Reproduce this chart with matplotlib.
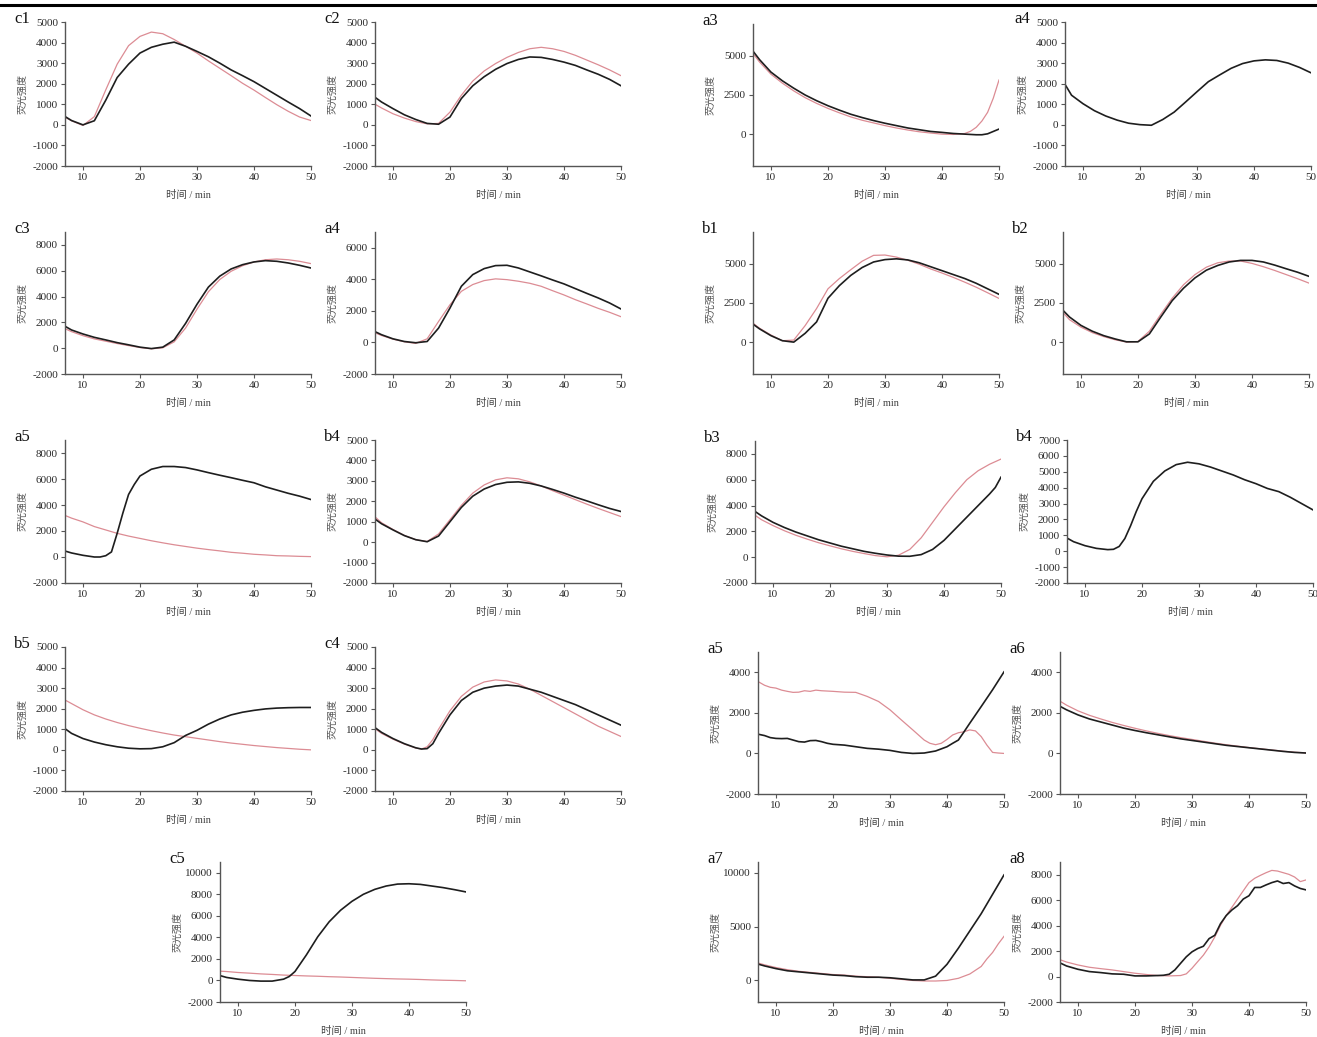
import numpy as np
import matplotlib.pyplot as plt

plt.rcParams['font.family'] = ['Liberation Serif', 'Noto Sans CJK SC']
plt.rcParams['axes.unicode_minus'] = False

#%% Datos

t_std = [7, 8, 10, 12, 14, 16, 18, 20, 22, 24, 26, 28, 30, 32, 34, 36, 38, 40, 42, 44, 46, 48, 50]

# c1
c1_black = [380, 210, 0, 200, 1200, 2300, 2950, 3490, 3770, 3920, 4020, 3820, 3570, 3310, 3000, 2670, 2390, 2100, 1770, 1440, 1110, 790, 430]
c1_red = [350, 200, -30, 400, 1700, 2950, 3850, 4300, 4510, 4430, 4150, 3820, 3490, 3110, 2750, 2390, 2020, 1690, 1330, 980, 660, 380, 210]

# c2
c2_black = [1310, 1110, 790, 490, 260, 70, 30, 380, 1280, 1900, 2340, 2700, 2980, 3180, 3300, 3280, 3180, 3050, 2890, 2670, 2460, 2210, 1900]
c2_red = [980, 820, 540, 330, 160, 50, 70, 620, 1440, 2130, 2620, 2980, 3280, 3520, 3700, 3770, 3700, 3570, 3380, 3150, 2920, 2670, 2390]

# a3 (arriba)
t_a3 = [7, 8, 10, 12, 14, 16, 18, 20, 22, 24, 26, 28, 30, 32, 34, 36, 38, 40, 42, 44, 45, 46, 47, 48, 49, 50]
a3_black = [5210, 4740, 3950, 3400, 2930, 2500, 2140, 1820, 1540, 1280, 1070, 880, 710, 560, 410, 300, 190, 130, 60, 20, 0, -20, -20, 40, 190, 340]
a3_red = [5060, 4590, 3820, 3250, 2760, 2330, 1970, 1650, 1370, 1110, 900, 730, 560, 410, 280, 170, 90, 20, 0, 60, 200, 450, 850, 1400, 2300, 3450]

# a4 (arriba)
a4_black = [1900, 1440, 1030, 690, 430, 230, 80, 10, -20, 260, 620, 1110, 1610, 2100, 2430, 2750, 2980, 3110, 3160, 3130, 3000, 2790, 2530]

# c3
c3_black = [1660, 1410, 1100, 840, 640, 430, 260, 80, -30, 80, 640, 1920, 3400, 4730, 5580, 6140, 6470, 6680, 6780, 6730, 6600, 6420, 6210]
c3_red = [1480, 1280, 970, 720, 540, 360, 200, 50, -50, 30, 490, 1560, 3020, 4370, 5320, 5960, 6390, 6680, 6850, 6910, 6850, 6730, 6550]

# a4 (fila 2)
a4b_black = [660, 490, 230, 60, -20, 60, 910, 2180, 3560, 4300, 4680, 4870, 4890, 4720, 4470, 4220, 3960, 3710, 3410, 3110, 2820, 2500, 2120]
a4b_red = [590, 440, 210, 40, -60, 230, 1330, 2390, 3240, 3670, 3920, 4030, 3980, 3880, 3750, 3560, 3280, 3010, 2710, 2440, 2160, 1910, 1630]

# b1
b1_black = [1120, 860, 430, 110, 20, 580, 1300, 2800, 3600, 4250, 4750, 5100, 5250, 5300, 5230, 5050, 4800, 4550, 4300, 4050, 3750, 3400, 3050]
b1_red = [1180, 900, 470, 110, 150, 1070, 2150, 3400, 4050, 4610, 5150, 5520, 5540, 5410, 5210, 4960, 4660, 4400, 4120, 3820, 3500, 3150, 2790]

# b2
b2_black = [1980, 1610, 1080, 710, 430, 220, 40, 40, 540, 1610, 2650, 3440, 4090, 4580, 4880, 5100, 5200, 5200, 5100, 4900, 4670, 4450, 4190]
b2_red = [1830, 1440, 970, 620, 370, 170, 20, 60, 710, 1780, 2800, 3660, 4300, 4770, 5050, 5160, 5160, 5010, 4800, 4560, 4300, 4040, 3760]

# a5 (fila 3)
t_a5 = [7, 8, 10, 12, 13, 14, 15, 16, 17, 18, 19, 20, 22, 24, 26, 28, 30, 32, 34, 36, 38, 40, 42, 44, 46, 48, 50]
a5_black = [440, 310, 130, 0, 0, 100, 390, 1820, 3380, 4810, 5580, 6230, 6750, 6960, 6960, 6880, 6700, 6490, 6290, 6100, 5900, 5710, 5400, 5150, 4900, 4680, 4420]
a5_red = [3170, 2990, 2700, 2340, 2080, 1820, 1610, 1430, 1250, 1090, 940, 810, 680, 570, 470, 360, 290, 210, 160, 100, 80, 50, 30]

# b4 (fila 3, centro)
b4_black = [1100, 900, 600, 320, 120, 20, 300, 1000, 1700, 2250, 2600, 2820, 2930, 2950, 2880, 2750, 2580, 2400, 2200, 2020, 1830, 1650, 1500]
b4_red = [1200, 950, 620, 330, 120, 30, 400, 1100, 1800, 2400, 2800, 3050, 3150, 3100, 2950, 2750, 2520, 2300, 2080, 1860, 1650, 1450, 1250]

# b3
t_b3 = [7, 8, 10, 12, 14, 16, 18, 20, 22, 24, 26, 28, 30, 32, 34, 36, 38, 40, 42, 44, 46, 48, 49, 50]
b3_black = [3500, 3200, 2700, 2300, 1950, 1650, 1350, 1100, 850, 650, 450, 300, 170, 80, 70, 200, 600, 1300, 2200, 3100, 4000, 4900, 5400, 6200]
b3_red = [3200, 2900, 2450, 2050, 1700, 1400, 1120, 880, 650, 450, 280, 120, 30, 150, 600, 1500, 2700, 3900, 5000, 6000, 6700, 7200, 7600]

# b4 (fila 3, derecha)
t_b4r = [7, 8, 10, 12, 14, 15, 16, 17, 18, 19, 20, 22, 24, 26, 28, 30, 32, 34, 36, 38, 40, 42, 44, 46, 48, 50]
b4r_black = [800, 600, 350, 180, 100, 120, 300, 800, 1600, 2500, 3300, 4400, 5050, 5450, 5600, 5500, 5300, 5050, 4800, 4500, 4250, 3950, 3750, 3400, 3000, 2600]

# b5
b5_black = [1000, 800, 550, 380, 250, 150, 80, 50, 60, 150, 350, 700, 950, 1250, 1500, 1700, 1830, 1920, 1990, 2030, 2050, 2060, 2060]
b5_red = [2400, 2250, 1950, 1700, 1500, 1330, 1180, 1050, 930, 820, 720, 640, 560, 480, 400, 330, 270, 210, 160, 110, 70, 30, 0]

# c4
t_c4 = [7, 8, 10, 12, 14, 15, 16, 17, 18, 20, 22, 24, 26, 28, 30, 32, 34, 36, 38, 40, 42, 44, 46, 48, 50]
c4_black = [1050, 850, 550, 300, 100, 40, 60, 300, 800, 1700, 2400, 2800, 3000, 3100, 3150, 3100, 2950, 2800, 2600, 2400, 2200, 1950, 1700, 1450, 1200]
c4_red = [1000, 800, 520, 280, 90, 40, 150, 500, 1000, 1900, 2600, 3050, 3300, 3400, 3350, 3200, 2950, 2650, 2350, 2050, 1750, 1450, 1150, 900, 650]

# a5 (fila 4)
t_a5b_black = [7, 8, 9, 10, 11, 12, 13, 14, 15, 16, 17, 18, 19, 20, 22, 24, 26, 28, 30, 32, 34, 36, 38, 40, 41, 42, 43, 44, 46, 48, 50]
a5b_black = [940, 880, 780, 740, 730, 740, 660, 580, 560, 630, 640, 580, 500, 450, 410, 330, 250, 210, 150, 50, 0, 20, 120, 330, 500, 660, 1070, 1490, 2310, 3140, 4020]
t_a5b_red = [7, 8, 9, 10, 11, 12, 13, 14, 15, 16, 17, 18, 20, 22, 24, 26, 28, 30, 32, 34, 36, 37, 38, 39, 40, 41, 42, 43, 44, 45, 46, 47, 48, 49, 50]
a5b_red = [3520, 3360, 3260, 3220, 3120, 3060, 3010, 3020, 3090, 3060, 3120, 3090, 3060, 3020, 3010, 2810, 2560, 2150, 1650, 1160, 660, 500, 430, 500, 690, 910, 1020, 1070, 1160, 1110, 830, 410, 50, 20, 0]

# a6
a6_black = [2300, 2150, 1900, 1700, 1550, 1400, 1250, 1130, 1020, 920, 820, 720, 640, 560, 480, 400, 340, 280, 220, 160, 100, 50, 20]
a6_red = [2550, 2380, 2100, 1880, 1700, 1530, 1380, 1240, 1110, 990, 880, 780, 690, 600, 510, 430, 360, 290, 230, 170, 110, 60, 30]

# c5
t_c5 = [7, 8, 10, 12, 14, 16, 18, 19, 20, 21, 22, 24, 26, 28, 30, 32, 34, 36, 38, 40, 42, 44, 46, 48, 50]
c5_black = [430, 280, 120, 0, -60, -60, 120, 370, 830, 1600, 2370, 4060, 5450, 6520, 7350, 8000, 8460, 8770, 8950, 8980, 8920, 8770, 8620, 8430, 8220]
c5_red = [860, 830, 740, 680, 610, 560, 500, 460, 420, 390, 350, 320, 280, 240, 200, 170, 140, 120, 90, 50, 20, 0, -30]

# a7
a7_black = [1500, 1350, 1100, 900, 800, 700, 600, 500, 450, 350, 300, 300, 250, 150, 50, 50, 400, 1500, 3000, 4600, 6200, 8000, 9800]
t_a7_red = [7, 8, 10, 12, 14, 16, 18, 20, 22, 24, 26, 28, 30, 32, 34, 36, 38, 40, 42, 44, 46, 47, 48, 49, 50]
a7_red = [1600, 1450, 1200, 1000, 850, 750, 650, 550, 500, 400, 350, 300, 200, 100, 0, -50, -50, 0, 200, 600, 1300, 2000, 2600, 3400, 4100]

# a8
t_a8_black = [7, 8, 10, 12, 14, 16, 18, 20, 22, 24] + list(range(25, 51))
a8_black = [1040, 830, 570, 390, 310, 210, 180, 50, 50, 80,
            100, 180, 520, 1040, 1550, 1940, 2200, 2380, 2980, 3240, 4150, 4790, 5230,
            5570, 6090, 6350, 7000, 7000, 7200, 7380, 7510, 7310, 7380, 7120, 6920, 6810]
t_a8_red = [7, 8, 10, 12, 14, 16, 18, 20, 22, 24, 26, 28] + list(range(29, 51))
a8_red = [1300, 1140, 910, 730, 620, 520, 390, 260, 160, 80, 50, 80,
          210, 650, 1170, 1680, 2330, 3110, 4020, 4790, 5440, 6090, 6740, 7380, 7720,
          7950, 8160, 8340, 8290, 8160, 8030, 7820, 7460, 7590]

#%% Figura

W, H = 1317, 1037
fig = plt.figure(figsize=(W/100, H/100), dpi=100)

negro = '#1e1e1e'
rojo = '#dc8c94'
gris = '#555555'

yt_5 = [-2000, -1000, 0, 1000, 2000, 3000, 4000, 5000]
yt_7 = [-2000, -1000, 0, 1000, 2000, 3000, 4000, 5000, 6000, 7000]
yt_8 = [-2000, 0, 2000, 4000, 6000, 8000]
yt_6 = [-2000, 0, 2000, 4000, 6000]
yt_4 = [-2000, 0, 2000, 4000]
yt_10 = [-2000, 0, 2000, 4000, 6000, 8000, 10000]
yt_25 = [0, 2500, 5000]
yt_50 = [0, 5000, 10000]

def panel(label, left, top, bottom, ylim, yticks, curvas):
    ax = fig.add_axes([left/W, 1 - bottom/H, 246/W, (bottom - top)/H])
    for tt, yy, col, lw in curvas:
        ax.plot(tt, yy, color=col, lw=lw, solid_joinstyle='round')
    ax.set_xlim(6.85, 50)
    ax.set_ylim(*ylim)
    ax.set_xticks([10, 20, 30, 40, 50])
    ax.set_yticks(yticks)
    for s in ['top', 'right']:
        ax.spines[s].set_visible(False)
    for s in ['left', 'bottom']:
        ax.spines[s].set_color(gris)
        ax.spines[s].set_linewidth(1.0)
    ax.tick_params(direction='out', length=3, width=0.8, color=gris,
                   labelsize=8, labelcolor='#2a2a2a', pad=2)
    ax.patch.set_alpha(0)
    # etiquetas
    fig.text((left - 51)/W, 1 - (top - 3)/H, label, fontsize=12,
             ha='left', va='center', color='#111111')
    fig.text((left - 43)/W, 1 - ((top + bottom)/2)/H, '荧光强度',
             family=['Noto Sans CJK SC'], fontsize=7.2, rotation=90,
             ha='center', va='center', color='#555555')
    fig.text((left + 123)/W, 1 - (bottom + 29)/H, '时间 / min',
             fontsize=7.5, ha='center', va='center', color='#444444')
    return ax

# Fila 1
panel('c1', 65, 22, 166, (-2000, 5000), yt_5,
      [(t_std, c1_red, rojo, 0.9), (t_std, c1_black, negro, 1.2)])
panel('c2', 375, 22, 166, (-2000, 5000), yt_5,
      [(t_std, c2_red, rojo, 0.9), (t_std, c2_black, negro, 1.2)])
panel('a3', 753, 24, 166, (-2000, 7000), yt_25,
      [(t_a3, a3_red, rojo, 0.9), (t_a3, a3_black, negro, 1.2)])
panel('a4', 1065, 22, 166, (-2000, 5000), yt_5,
      [(t_std, a4_black, negro, 1.2)])

# Fila 2
panel('c3', 65, 232, 374, (-2000, 9000), yt_8,
      [(t_std, c3_red, rojo, 0.9), (t_std, c3_black, negro, 1.2)])
panel('a4', 375, 232, 374, (-2000, 7000), yt_6,
      [(t_std, a4b_red, rojo, 0.9), (t_std, a4b_black, negro, 1.2)])
panel('b1', 753, 232, 374, (-2000, 7000), yt_25,
      [(t_std, b1_red, rojo, 0.9), (t_std, b1_black, negro, 1.2)])
panel('b2', 1063, 232, 374, (-2000, 7000), yt_25,
      [(t_std, b2_red, rojo, 0.9), (t_std, b2_black, negro, 1.2)])

# Fila 3
panel('a5', 65, 440, 583, (-2000, 9000), yt_8,
      [(t_std, a5_red, rojo, 0.9), (t_a5, a5_black, negro, 1.2)])
panel('b4', 375, 440, 583, (-2000, 5000), yt_5,
      [(t_std, b4_red, rojo, 0.9), (t_std, b4_black, negro, 1.2)])
panel('b3', 755, 441, 583, (-2000, 9000), yt_8,
      [(t_std, b3_red, rojo, 0.9), (t_b3, b3_black, negro, 1.2)])
panel('b4', 1067, 440, 583, (-2000, 7000), yt_7,
      [(t_b4r, b4r_black, negro, 1.2)])

# Fila 4
panel('b5', 65, 647, 791, (-2000, 5000), yt_5,
      [(t_std, b5_red, rojo, 0.9), (t_std, b5_black, negro, 1.2)])
panel('c4', 375, 647, 791, (-2000, 5000), yt_5,
      [(t_c4, c4_red, rojo, 0.9), (t_c4, c4_black, negro, 1.2)])
panel('a5', 758, 652, 794, (-2000, 5000), yt_4,
      [(t_a5b_red, a5b_red, rojo, 0.9), (t_a5b_black, a5b_black, negro, 1.2)])
panel('a6', 1060, 652, 794, (-2000, 5000), yt_4,
      [(t_std, a6_red, rojo, 0.9), (t_std, a6_black, negro, 1.2)])

# Fila 5
panel('c5', 220, 862, 1002, (-2000, 11000), yt_10,
      [(t_std, c5_red, rojo, 0.9), (t_c5, c5_black, negro, 1.2)])
panel('a7', 758, 862, 1002, (-2000, 11000), yt_50,
      [(t_a7_red, a7_red, rojo, 0.9), (t_std, a7_black, negro, 1.2)])
panel('a8', 1060, 862, 1002, (-2000, 9000), yt_8,
      [(t_a8_red, a8_red, rojo, 0.9), (t_a8_black, a8_black, negro, 1.2)])

# línea superior
fig.add_artist(plt.Line2D([0, 1], [1 - 5/H, 1 - 5/H], color='black', lw=2.2,
                          transform=fig.transFigure))

fig.savefig('out.png', dpi=100)
